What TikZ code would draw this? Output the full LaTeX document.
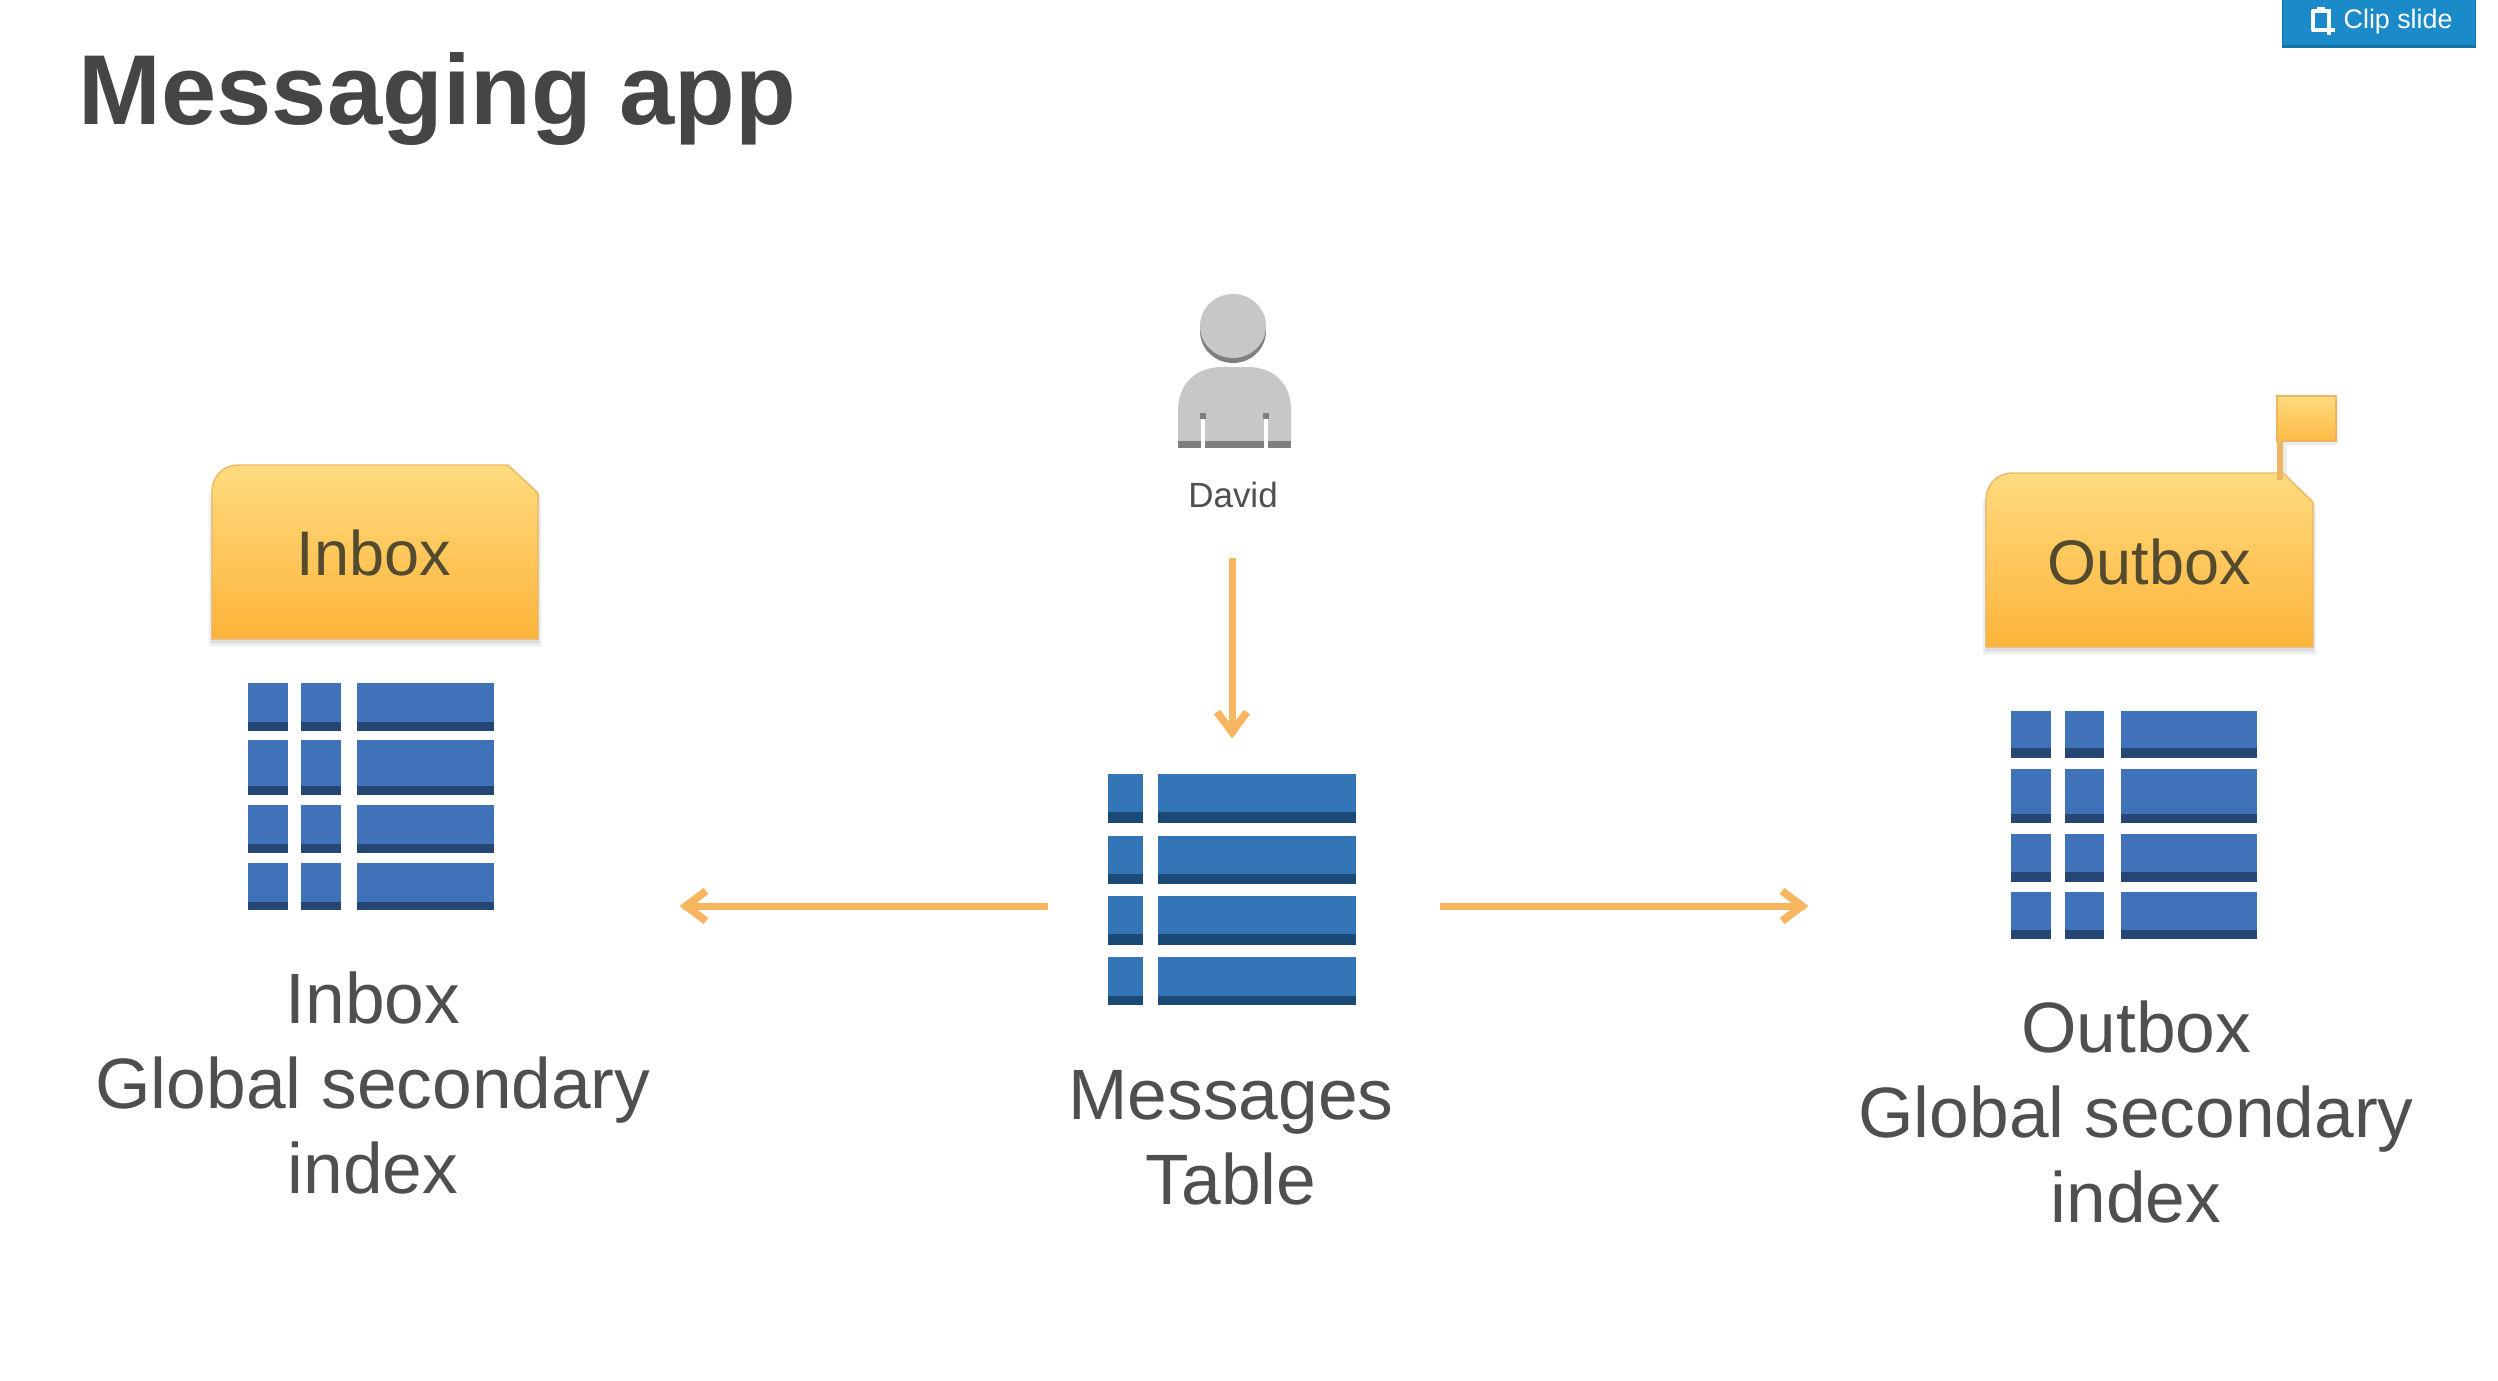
\documentclass[tikz,border=0pt]{standalone}
\usepackage{fontspec}
\setmainfont{Liberation Sans}
\definecolor{txt}{HTML}{4F4F4F}
\definecolor{titletxt}{HTML}{454545}
\definecolor{arrowc}{HTML}{F7B55F}
\definecolor{foldertop}{HTML}{FFDB7E}
\definecolor{folderbot}{HTML}{FDB43A}
\definecolor{folderline}{HTML}{EDB462}
\definecolor{foldertxt}{HTML}{544B2E}
\definecolor{blueA}{HTML}{4072B9}
\definecolor{blueAd}{HTML}{264674}
\definecolor{blueB}{HTML}{3375B6}
\definecolor{blueBd}{HTML}{1C4A76}
\definecolor{persona}{HTML}{C6C7C9}
\definecolor{personb}{HTML}{7E7F81}
\definecolor{btn}{HTML}{1A8BC8}
\definecolor{btnd}{HTML}{1472A5}
\newcommand{\gridtable}[4]{%
  \foreach \xa/\xb in {#1}{%
    \foreach \ya/\ym/\yb in {#2}{%
      \fill[#3] (\xa,\ya) rectangle (\xb,\ym);
      \fill[#4] (\xa,\ym) rectangle (\xb,\yb);
    }}}
\tikzset{
  x=0.3pt,y=-0.3pt,
  label/.style={text=txt,align=center,inner sep=0pt,font=\fontsize{21.4}{25.5}\selectfont},
  foldertext/.style={text=foldertxt,inner sep=0pt,font=\fontsize{18.9}{22}\selectfont},
  flow/.style={draw=arrowc,line width=2.1pt},
  chevron/.style={draw=arrowc,line width=2.3pt,line join=miter},
  folderface/.style={top color=foldertop,bottom color=folderbot,draw=folderline,line width=0.4pt},
  foldershadow/.style={fill=black,opacity=0.07}
}
\begin{document}
\begin{tikzpicture}
\clip (0,0) rectangle (2498,1380);
\fill[white] (0,0) rectangle (2498,1380);
% title
\node[anchor=base west,inner sep=0pt,text=titletxt,font=\fontsize{29.8}{32}\selectfont\bfseries] (title) at (78,124) {Messaging app};
% clip button
\fill[btnd] (2282,-6) rectangle (2476,47.5);
\fill[btn] (2283,-6) rectangle (2475,45);
\draw[white,line width=1.2pt,line join=round] (2317,11) -- (2313,11) -- (2313,30) -- (2325,30);
\draw[white,line width=1.2pt] (2325,11) -- (2329,11) -- (2329,24);
\fill[white] (2317,7) rectangle (2325,13);
\fill[white] (2327,24) rectangle (2331,35);
\fill[white] (2323,27.5) rectangle (2335,31.5);
\node[anchor=base west,inner sep=0pt,text=white,font=\fontsize{8.05}{10}\selectfont] (clip) at (2343,28) {Clip slide};
% person
\fill[personb] (1233,331) ellipse[x radius=33,y radius=32];
\fill[persona] (1233,326) ellipse[x radius=33,y radius=32];
\fill[persona] (1178,441) -- (1178,410) .. controls (1178,382) and (1198,367) .. (1222,367) -- (1248,367) .. controls (1272,367) and (1291,382) .. (1291,410) -- (1291,441) -- cycle;
\fill[personb] (1178,441) rectangle (1291,448);
\fill[white] (1201,418) rectangle (1205,448);
\fill[white] (1264,418) rectangle (1268,448);
\fill[personb] (1200,413) rectangle (1206,419);
\fill[personb] (1263,413) rectangle (1269,419);
\node[inner sep=0pt,text=txt,font=\fontsize{10.5}{12}\selectfont] (david) at (1233,495) {David};
% inbox folder
\fill[foldershadow] (209,646) -- (209,495) -- (238,468) -- (508,468) -- (541,496) -- (541,646) -- cycle;
\fill[foldershadow] (211,643) -- (211,495) -- (238,466) -- (508,466) -- (539,494) -- (539,643) -- cycle;
\shade[folderface] (212,639) -- (212,491) arc[start angle=180,end angle=270,radius=26] -- (508,465) -- (538,493) -- (538,639) -- cycle;
\node[foldertext] (inboxf) at (374,553) {Inbox};
\gridtable{248/288,301/341,357/494}{683/722/731,740/786/795,805/844/853,863/902/910}{blueA}{blueAd}
\node[label] (inboxl) at (373,1083) {Inbox\\Global secondary\\index};
% outbox flag
\fill[foldershadow] (2277,400) rectangle (2338,445);
\fill[foldershadow] (2283,445) rectangle (2287,475);
\shade[top color=foldertop,bottom color=folderbot!85!foldertop,draw=folderline,line width=0.4pt] (2277,396) rectangle (2336,441);
\fill[folderline] (2277,441) rectangle (2283,480);
% outbox folder
\fill[foldershadow] (1983,654) -- (1983,500) -- (2012,476) -- (2284,476) -- (2316,506) -- (2316,654) -- cycle;
\fill[foldershadow] (1985,651) -- (1985,500) -- (2012,474) -- (2283,474) -- (2314,504) -- (2314,651) -- cycle;
\shade[folderface] (1986,647) -- (1986,499) arc[start angle=180,end angle=270,radius=26] -- (2283,473) -- (2313,502) -- (2313,647) -- cycle;
\fill[folderline] (2277,470) rectangle (2283,480);
\node[foldertext] (outboxf) at (2149,562) {Outbox};
\gridtable{2011/2051,2065/2104,2121/2257}{711/748/758,769/814/823,834/872/882,892/930/939}{blueA}{blueAd}
\node[label] (outboxl) at (2136,1112) {Outbox\\Global secondary\\index};
% messages table
\gridtable{1108/1143,1158/1356}{774/812/823,836/874/884,896/934/945,957/996/1005}{blueB}{blueBd}
\node[label] (msgl) at (1231,1138) {Messages\\Table};
% connectors
\coordinate (downs) at (1232,558);
\coordinate (downe) at (1232,735);
\coordinate (lefts) at (1048,906);
\coordinate (lefte) at (683,906);
\coordinate (rights) at (1440,906);
\coordinate (righte) at (1805,906);
\draw[flow] (downs) -- (downe);
\draw[flow] (lefts) -- (lefte);
\draw[flow] (rights) -- (righte);
\draw[chevron] ([shift={(-15,-23)}]downe) -- ([shift={(0,-3)}]downe) -- ([shift={(15,-23)}]downe);
\draw[chevron] ([shift={(23,-15)}]lefte) -- ([shift={(3,0)}]lefte) -- ([shift={(23,15)}]lefte);
\draw[chevron] ([shift={(-23,-15)}]righte) -- ([shift={(-3,0)}]righte) -- ([shift={(-23,15)}]righte);
\end{tikzpicture}
\end{document}
